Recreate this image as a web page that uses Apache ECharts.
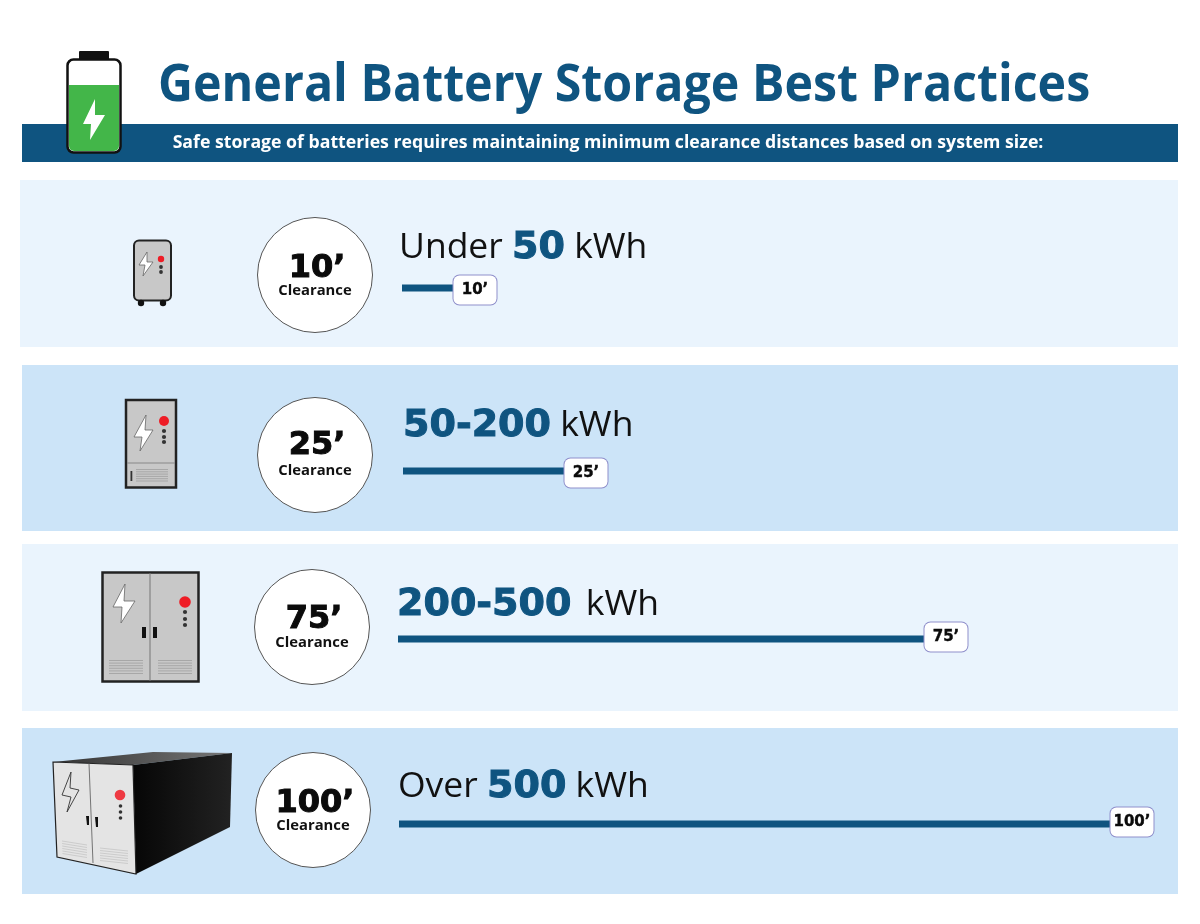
<!DOCTYPE html>
<html>
<head>
<meta charset="utf-8">
<title>General Battery Storage Best Practices</title>
<script src="https://cdn.jsdelivr.net/npm/echarts@6/dist/echarts.min.js"></script>
<style>
    html, body { margin: 0; padding: 0; background: #fff; }
    #chart { width: 1200px; height: 924px; }
</style>
</head>
<body>
<div id="chart"></div>
<script>
//数据 clearance per system size
var sizeLabels = ['Under 50 kWh', '50-200 kWh', '200-500 kWh', 'Over 500 kWh'];
var clearanceFeet = [10, 25, 75, 100];
var clearanceLabels = ['10’', '25’', '75’', '100’'];

var NAVY = '#0F5480';
var PALE = '#EAF4FD';
var BLUE = '#CCE4F8';
var SANS = '"Open Sans", sans-serif';
var HEAVY = '"DejaVu Sans", Arial, sans-serif';

// bars in the picture are not on one common scale, so each row has its own grid
var barLeft = [402, 403, 398, 399];
var barLength = [51, 161, 526, 711];
var barCenterY = [288, 471, 639, 824];
var labelShiftY = [2, 2, -2, -2];

var elements = [];

function rect(x, y, w, h, fill, extra) {
    var e = { type: 'rect', shape: { x: x, y: y, width: w, height: h, r: (extra && extra.r) || 0 }, style: { fill: fill } };
    if (extra && extra.stroke) {
        e.style.stroke = extra.stroke;
        e.style.lineWidth = extra.lineWidth || 1;
    }
    elements.push(e);
}
function dot(x, y, r, fill, stroke) {
    elements.push({ type: 'circle', shape: { cx: x, cy: y, r: r }, style: { fill: fill, stroke: stroke || null, lineWidth: 1 } });
}
function poly(points, fill, stroke, lineWidth) {
    elements.push({ type: 'polygon', shape: { points: points }, style: { fill: fill, stroke: stroke || null, lineWidth: lineWidth || 1 } });
}
function line(x1, y1, x2, y2, color, width) {
    elements.push({ type: 'line', shape: { x1: x1, y1: y1, x2: x2, y2: y2 }, style: { stroke: color, lineWidth: width || 1 } });
}
function text(x, y, str, font, fill, align, stroke, scaleX) {
    elements.push({
        type: 'text', x: x, y: y, scaleX: scaleX || 1,
        style: { text: str, font: font, fill: fill, align: align || 'left', verticalAlign: 'middle', stroke: stroke || null, lineWidth: stroke ? 1 : 0 }
    });
}
function heading(x, y, parts) {
    elements.push({
        type: 'text', x: x, y: y,
        style: {
            text: parts,
            verticalAlign: 'middle',
            rich: {
                r: { font: '400 35.5px ' + SANS, fill: '#111' },
                s: { font: '400 20px ' + SANS, fill: '#111' },
                b: { font: '700 38px ' + HEAVY, fill: NAVY, stroke: NAVY, lineWidth: 1 }
            }
        }
    });
}

// 背景色块
rect(20, 180, 1158, 167, PALE);
rect(22, 365, 1156, 166, BLUE);
rect(22, 544, 1156, 167, PALE);
rect(22, 728, 1156, 166, BLUE);

// 标题
text(158, 86, 'General Battery Storage Best Practices', '700 52px ' + SANS, NAVY, 'left', null, 0.93);
rect(22, 124, 1156, 38, NAVY);
text(608, 143, 'Safe storage of batteries requires maintaining minimum clearance distances based on system size:', '700 17.7px ' + SANS, '#fff', 'center');

// battery
rect(79, 51, 30, 10, '#111', { r: 1 });
rect(67.5, 59.5, 53, 93, '#fff', { r: 6, stroke: '#111', lineWidth: 2.5 });
rect(69, 85, 50, 66, '#43B649', { r: [0, 0, 5, 5] });
poly([[95, 99], [83, 124], [91, 124], [90, 140], [105, 115], [95, 115]], '#fff');

// icon row 1
rect(134, 240.5, 37, 60, '#C8C8C8', { r: 5, stroke: '#222', lineWidth: 2 });
dot(141, 303, 3.2, '#111');
dot(163, 303, 3.2, '#111');
poly([[147, 252], [139, 265], [145, 265], [143, 276], [153, 262], [147, 262]], '#fff', '#666', 0.8);
dot(161, 259, 3.2, '#EE1C25');
dot(161, 267, 1.9, '#333');
dot(161, 272, 1.9, '#333');

// icon row 2
rect(126, 400, 50, 87.5, '#C8C8C8', { stroke: '#222', lineWidth: 2.5 });
line(127, 463, 175, 463, '#888', 1);
poly([[146, 415], [134, 437], [142, 437], [140, 451], [153, 430], [145, 430]], '#fff', '#666', 0.8);
dot(164, 421, 5, '#EE1C25');
dot(164, 431, 2.1, '#333');
dot(164, 437, 2.1, '#333');
dot(164, 442, 2.1, '#333');
rect(130.5, 471, 1.8, 10, '#333');
for (var i = 0; i < 6; i++) {
    line(136, 469.5 + i * 2.3, 168, 469.5 + i * 2.3, '#999', 0.7);
}

// icon row 3
rect(102.5, 572.5, 96, 109, '#C8C8C8', { stroke: '#222', lineWidth: 2.5 });
line(150, 573, 150, 681, '#777', 1);
poly([[125, 584], [113, 607], [122, 607], [121, 623], [135, 601], [124, 601]], '#fff', '#666', 0.8);
dot(185, 602, 5.8, '#EE1C25');
dot(185, 612, 2.1, '#333');
dot(185, 619, 2.1, '#333');
dot(185, 625, 2.1, '#333');
rect(142, 627, 4, 11, '#111');
rect(153, 627, 4, 11, '#111');
for (var i = 0; i < 6; i++) {
    line(109, 660.5 + i * 2.6, 143, 660.5 + i * 2.6, '#999', 0.7);
    line(158, 660.5 + i * 2.6, 192, 660.5 + i * 2.6, '#999', 0.7);
}

// icon row 4, container in perspective
poly([[53, 762], [153, 752], [232, 753], [133, 765]], {
    type: 'linear', x: 0, y: 0, x2: 1, y2: 0,
    colorStops: [{ offset: 0, color: '#333' }, { offset: 1, color: '#777' }]
});
poly([[133, 765], [232, 753], [230, 827], [136, 874]], {
    type: 'linear', x: 0, y: 0, x2: 1, y2: 0,
    colorStops: [{ offset: 0, color: '#060606' }, { offset: 1, color: '#222' }]
});
poly([[53, 762], [133, 765], [136, 874], [57, 857]], '#E4E4E4', '#222', 1.2);
line(89, 763.5, 93, 863, '#666', 0.9);
poly([[71, 772], [62, 795], [71, 797], [67, 812], [79, 790], [70, 788]], '#E4E4E4', '#333', 0.9);
dot(120, 795, 5.3, '#EE3A43');
dot(120.5, 806, 1.8, '#333');
dot(120.5, 812, 1.8, '#333');
dot(120.5, 818, 1.8, '#333');
poly([[86, 816], [89, 816], [89, 825], [87, 825]], '#111');
poly([[95, 817], [98, 817], [98, 827], [96, 827]], '#111');
for (var i = 0; i < 6; i++) {
    line(62 + i * 0.1, 841 + i * 2.5, 87, 845 + i * 2.5, '#BBB', 0.6);
    line(100, 848 + i * 2.5, 128, 851 + i * 2.5, '#BBB', 0.6);
}

// 圆形标注
var circleX = [315, 315, 312, 313];
var circleY = [275, 455, 627, 810];
var bigY = [-6, -9, -7, -6];
for (var i = 0; i < clearanceLabels.length; i++) {
    dot(circleX[i], circleY[i], 57.5, '#fff', '#555');
    text(circleX[i] + 2, circleY[i] + bigY[i], clearanceLabels[i], '700 32px ' + HEAVY, '#0B0B0B', 'center', '#0B0B0B');
    text(circleX[i], circleY[i] + 16, 'Clearance', '700 14.8px ' + SANS, '#111', 'center');
}

// row headings
heading(399, 248, '{r|Under }{b|50}{r| kWh}');
heading(403, 426, '{b|50-200}{r| kWh}');
heading(397, 605, '{b|200-500}{s| }{r| kWh}');
heading(398, 787, '{r|Over }{b|500}{r| kWh}');

// 每行一个grid
var grids = [], xAxes = [], yAxes = [], seriesList = [];
for (var i = 0; i < clearanceFeet.length; i++) {
    grids.push({ left: barLeft[i], width: barLength[i], top: barCenterY[i] - 5, height: 10 });
    xAxes.push({ type: 'value', gridIndex: i, min: 0, max: clearanceFeet[i], show: false });
    yAxes.push({ type: 'category', gridIndex: i, data: [sizeLabels[i]], show: false });
    seriesList.push({
        type: 'bar',
        name: sizeLabels[i],
        xAxisIndex: i,
        yAxisIndex: i,
        barWidth: 7,
        itemStyle: { color: NAVY },
        data: [clearanceFeet[i]],
        label: {
            show: true,
            position: 'right',
            distance: 0,
            offset: [22, labelShiftY[i]],
            formatter: clearanceLabels[i],
            width: 43,
            height: 29,
            lineHeight: 29,
            align: 'center',
            fontFamily: HEAVY,
            fontWeight: 700,
            fontSize: 15,
            color: '#0B0B0B',
            textBorderColor: '#0B0B0B',
            textBorderWidth: 0.4,
            backgroundColor: '#fff',
            borderColor: '#8F8FCB',
            borderWidth: 1,
            borderRadius: 6
        }
    });
}

var chart = echarts.init(document.getElementById('chart'), null, { renderer: 'canvas' });
chart.setOption({
    animation: false,
    backgroundColor: '#fff',
    grid: grids,
    xAxis: xAxes,
    yAxis: yAxes,
    series: seriesList,
    graphic: { elements: elements }
});
</script>
</body>
</html>
